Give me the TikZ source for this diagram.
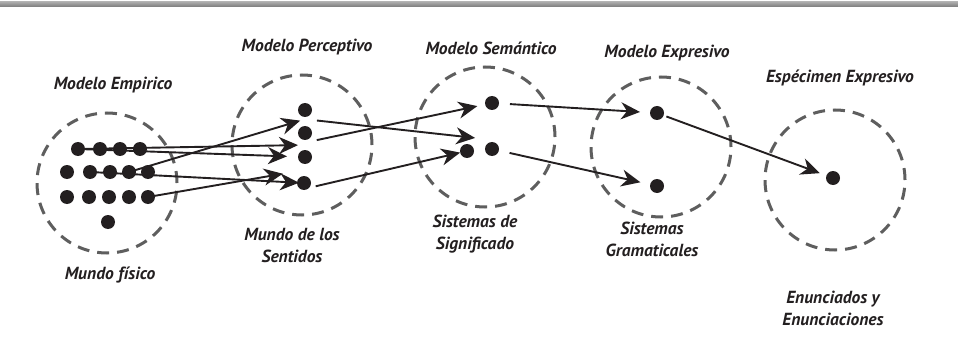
\documentclass[tikz,border=0pt]{standalone}
\usepackage{fontspec}
\setmainfont{PT Sans}
\usetikzlibrary{arrows.meta,calc}
\definecolor{ink}{HTML}{231F20}
\definecolor{ringc}{HTML}{5E5E5E}
\definecolor{barc}{HTML}{7A7A7A}
\begin{document}
\begin{tikzpicture}[x=1pt,y=-1pt,
  dot/.style={circle,fill=ink,inner sep=0pt,minimum size=14pt},
  ringnode/.style={circle,draw=ringc,line width=3pt,dash pattern=on 12pt off 8pt,minimum size=140pt,inner sep=0pt},
  arr/.style={draw=ink,line width=1.9pt,-{Stealth[length=19pt,width=17pt,inset=6pt]}},
  lab/.style={text=ink,font=\fontsize{17.5}{22}\selectfont\bfseries\itshape,align=center}]
\useasboundingbox (0,0) rectangle (958,350);
\shade[top color=barc!60, bottom color=barc] (0,1.5) rectangle (958,7);
% rings
\node[ringnode] (r1) at (107,183) {};
\node[ringnode] (r2) at (302,145) {};
\node[ringnode] (r3) at (485,137) {};
\node[ringnode] (r4) at (661,147) {};
\node[ringnode] (r5) at (835,180) {};
% dots empirical
\node[dot] (e11) at (78,149) {};
\node[dot] (e12) at (100,149) {};
\node[dot] (e13) at (120,149) {};
\node[dot] (e14) at (140,149) {};
\node[dot] (e21) at (67,172) {};
\node[dot] (e22) at (90,172) {};
\node[dot] (e23) at (110,172) {};
\node[dot] (e24) at (129,172) {};
\node[dot] (e25) at (148,172) {};
\node[dot] (e31) at (67,197) {};
\node[dot] (e32) at (89,197) {};
\node[dot] (e33) at (109,197) {};
\node[dot] (e34) at (129,197) {};
\node[dot] (e35) at (148,197) {};
\node[dot] (e4) at (108,222) {};
% perceptive
\node[dot] (p1) at (305,110) {};
\node[dot] (p2) at (305,133) {};
\node[dot] (p3) at (305,157) {};
\node[dot] (p4) at (304,183) {};
% semantic
\node[dot] (s1) at (492,103) {};
\node[dot] (s2) at (467,151) {};
\node[dot] (s3) at (492,149) {};
% expressive
\node[dot] (c1) at (657,113) {};
\node[dot] (c2) at (657,186) {};
% specimen
\node[dot] (t1) at (833,178) {};
% arrows empirical -> perceptive
\draw[arr,shorten >=7pt] (e11.center) -- ($(p2)!.5!(p3)$);
\draw[arr,shorten >=18pt] (e11.center) -- (p3.center);
\draw[arr,shorten >=5pt] (e24.center) -- ($(p1)!.4!(p2)$);
\draw[arr,shorten >=5pt] (e22.center) -- (p4.center);
\draw[arr,shorten >=22pt] (e35.center) -- ($(p3)!.5!(p4)$);
% perceptive -> semantic
\draw[arr,shorten <=12pt,shorten >=17pt] ($(p1)!.4!(p2)$) -- ($(s1)!.8!(s3)$);
\draw[arr,shorten <=12pt,shorten >=15pt] ($(p2)!.4!(p3)$) -- (s1.center);
\draw[arr,shorten <=12pt,shorten >=7pt] ($(p4)+(0,6)$) -- (s2.center);
% semantic -> expressive
\draw[arr,shorten <=18pt,shorten >=17pt] (s1.center) -- (c1.center);
\draw[arr,shorten <=18pt,shorten >=17pt] (s3.center) -- (c2.center);
% expressive -> specimen
\draw[arr,shorten <=10pt,shorten >=14pt] (c1.center) -- (t1.center);
% labels
\node[lab] (l1) at (113,85) {Modelo Empirico};
\node[lab] (l2) at (307,47) {Modelo Perceptivo};
\node[lab] (l3) at (491,48) {Modelo Semántico};
\node[lab] (l4) at (667,53) {Modelo Expresivo};
\node[lab] (l5) at (840,78) {Espécimen Expresivo};
\node[lab] (b1) at (110,275) {Mundo físico};
\node[lab] (b2) at (292,245) {Mundo de los\\Sentidos};
\node[lab] (b3) at (475,234) {Sistemas de\\Significado};
\node[lab] (b4) at (652,239) {Sistemas\\Gramaticales};
\node[lab] (b5) at (833,308) {Enunciados y\\Enunciaciones};
\end{tikzpicture}
\end{document}
